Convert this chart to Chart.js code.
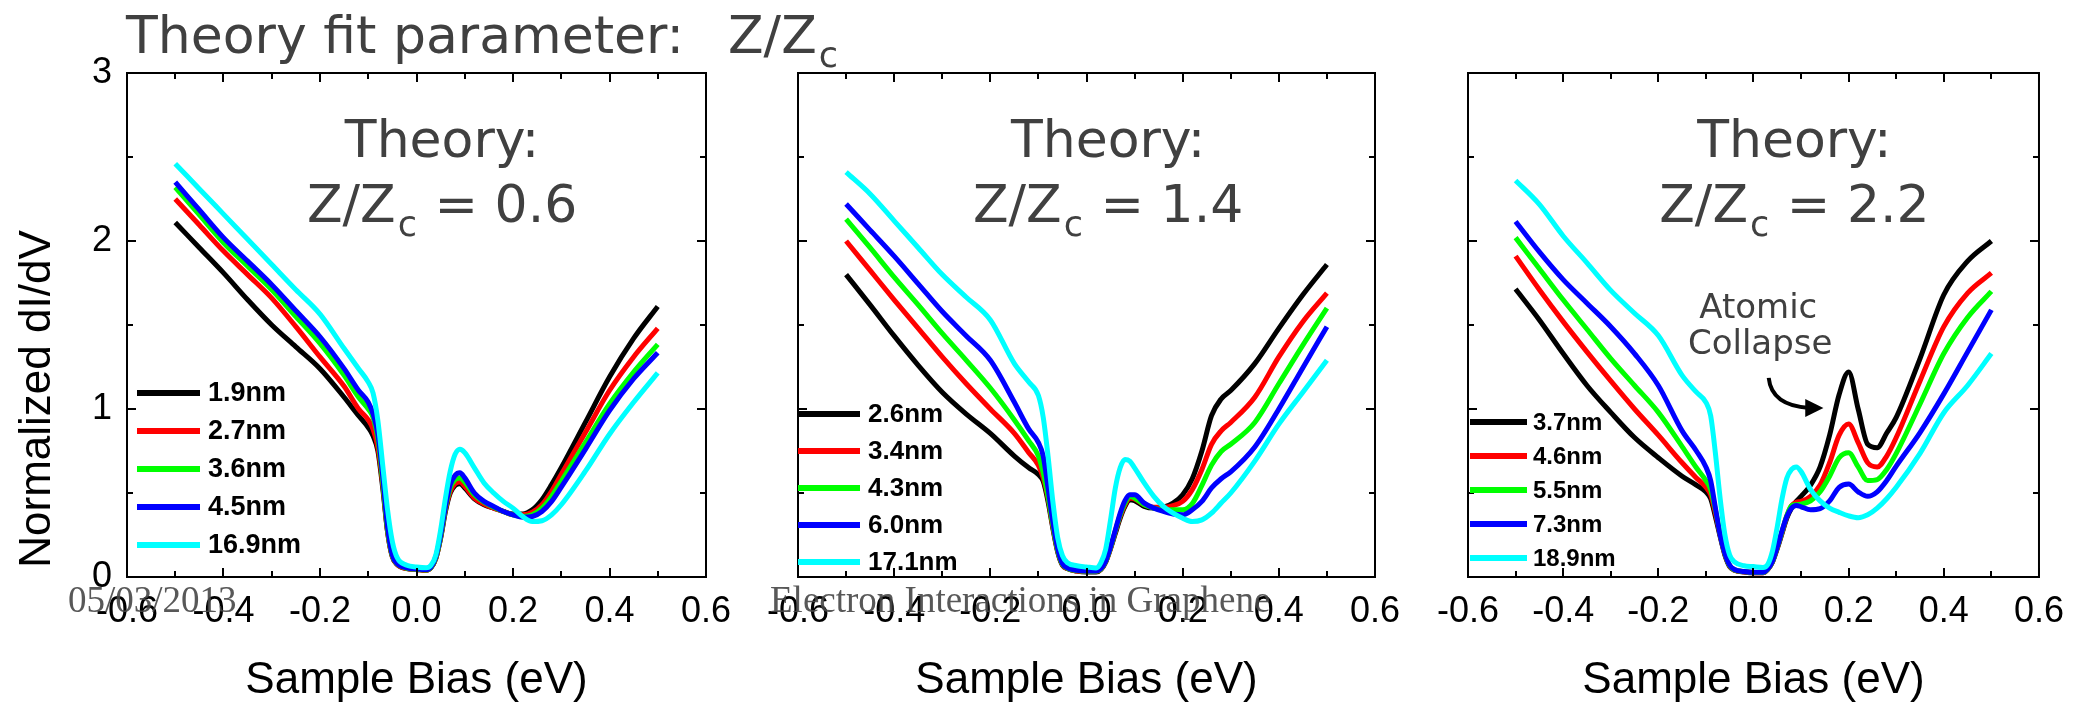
<!DOCTYPE html>
<html lang="en">
<head>
<meta charset="UTF-8">
<title>Theory fit parameter Z/Zc</title>
<script src="https://cdn.jsdelivr.net/npm/chart.js@4.4.1/dist/chart.umd.min.js"></script>
<style>
  html, body { margin: 0; padding: 0; background: #fff; }
  #wrap { position: relative; width: 2077px; height: 707px; }
  #wrap canvas { position: absolute; left: 0; top: 0; }
</style>
</head>
<body>
<div id="wrap">
  <canvas id="c1" width="2077" height="707"></canvas>
  <canvas id="c2" width="2077" height="707"></canvas>
  <canvas id="c3" width="2077" height="707"></canvas>
</div>

<script>
// sample bias (eV), shared by every curve
var biasV = [-0.5, -0.45, -0.4, -0.35, -0.3, -0.25, -0.2, -0.15, -0.12, -0.1, -0.09, -0.08, -0.07, -0.06, -0.05, -0.04, -0.02,
    0, 0.02, 0.03, 0.04, 0.05, 0.06, 0.07, 0.08, 0.09, 0.1, 0.12, 0.14, 0.16, 0.18, 0.2, 0.22, 0.24, 0.26, 0.28, 0.3,
    0.35, 0.4, 0.45, 0.5];

var xTicks = [-0.6, -0.4, -0.2, 0, 0.2, 0.4, 0.6];
var xMinor = [-0.5, -0.3, -0.1, 0.1, 0.3, 0.5];
var yTicks = [0, 1, 2, 3];
var yMinor = [0.5, 1.5, 2.5];

// Z/Zc = 0.6
var p1Labels = ["1.9nm", "2.7nm", "3.6nm", "4.5nm", "16.9nm"];
var p1_19nm = [2.11, 1.96, 1.81, 1.65, 1.50, 1.37, 1.24, 1.07, 0.96, 0.89, 0.84, 0.75, 0.53, 0.27, 0.12, 0.075, 0.05,
    0.045, 0.04, 0.055, 0.11, 0.23, 0.39, 0.50, 0.545, 0.555, 0.53, 0.465, 0.43, 0.41, 0.39, 0.375, 0.375, 0.40, 0.46, 0.55, 0.65,
    0.92, 1.19, 1.42, 1.61];
var p1_27nm = [2.25, 2.095, 1.94, 1.80, 1.66, 1.49, 1.31, 1.135, 1.00, 0.935, 0.88, 0.77, 0.55, 0.27, 0.12, 0.075, 0.05,
    0.045, 0.04, 0.055, 0.11, 0.235, 0.40, 0.51, 0.555, 0.565, 0.54, 0.47, 0.435, 0.41, 0.39, 0.37, 0.37, 0.385, 0.43, 0.51, 0.61,
    0.86, 1.11, 1.31, 1.48];
var p1_36nm = [2.32, 2.155, 1.99, 1.85, 1.71, 1.55, 1.39, 1.20, 1.07, 1.00, 0.95, 0.82, 0.57, 0.28, 0.125, 0.078, 0.052,
    0.046, 0.042, 0.057, 0.115, 0.24, 0.41, 0.53, 0.58, 0.59, 0.565, 0.49, 0.445, 0.415, 0.39, 0.37, 0.36, 0.37, 0.41, 0.48, 0.57,
    0.80, 1.03, 1.22, 1.385];
var p1_45nm = [2.35, 2.185, 2.02, 1.88, 1.74, 1.585, 1.43, 1.24, 1.11, 1.04, 0.97, 0.85, 0.60, 0.30, 0.13, 0.08, 0.055,
    0.048, 0.044, 0.06, 0.12, 0.25, 0.42, 0.55, 0.605, 0.62, 0.59, 0.50, 0.45, 0.42, 0.39, 0.37, 0.355, 0.36, 0.39, 0.45, 0.535,
    0.76, 0.99, 1.18, 1.335];
var p1_169nm = [2.46, 2.31, 2.16, 2.01, 1.86, 1.71, 1.565, 1.36, 1.24, 1.16, 1.095, 0.93, 0.665, 0.40, 0.21, 0.115, 0.07,
    0.06, 0.055, 0.07, 0.13, 0.28, 0.47, 0.63, 0.73, 0.76, 0.74, 0.65, 0.56, 0.50, 0.45, 0.41, 0.36, 0.33, 0.335, 0.37, 0.43,
    0.63, 0.85, 1.04, 1.215];

// Z/Zc = 1.4
var p2Labels = ["2.6nm", "3.4nm", "4.3nm", "6.0nm", "17.1nm"];
var p2_26nm = [1.80, 1.62, 1.435, 1.26, 1.10, 0.97, 0.855, 0.72, 0.65, 0.61, 0.57, 0.45, 0.29, 0.15, 0.07, 0.05, 0.035,
    0.03, 0.03, 0.045, 0.09, 0.17, 0.26, 0.35, 0.42, 0.46, 0.455, 0.42, 0.41, 0.415, 0.44, 0.49, 0.585, 0.75, 0.96, 1.06, 1.11,
    1.27, 1.48, 1.68, 1.86];
var p2_34nm = [2.00, 1.825, 1.65, 1.48, 1.31, 1.15, 1.00, 0.855, 0.74, 0.665, 0.59, 0.47, 0.30, 0.155, 0.072, 0.05, 0.036,
    0.032, 0.032, 0.046, 0.09, 0.17, 0.27, 0.36, 0.43, 0.47, 0.465, 0.43, 0.415, 0.415, 0.425, 0.45, 0.52, 0.64, 0.79, 0.87, 0.92,
    1.07, 1.31, 1.52, 1.69];
var p2_43nm = [2.13, 1.96, 1.785, 1.62, 1.45, 1.29, 1.125, 0.935, 0.81, 0.72, 0.62, 0.48, 0.31, 0.16, 0.075, 0.052, 0.038,
    0.034, 0.034, 0.048, 0.092, 0.175, 0.275, 0.37, 0.44, 0.48, 0.47, 0.43, 0.41, 0.40, 0.40, 0.40, 0.437, 0.545, 0.666, 0.747, 0.79,
    0.92, 1.15, 1.38, 1.60];
var p2_60nm = [2.22, 2.065, 1.91, 1.745, 1.58, 1.435, 1.29, 1.04, 0.88, 0.80, 0.72, 0.53, 0.33, 0.17, 0.08, 0.055, 0.04,
    0.036, 0.036, 0.05, 0.095, 0.18, 0.28, 0.38, 0.455, 0.49, 0.49, 0.44, 0.41, 0.39, 0.375, 0.37, 0.40, 0.45, 0.53, 0.585, 0.626,
    0.774, 1.00, 1.246, 1.49];
var p2_171nm = [2.41, 2.28, 2.12, 1.96, 1.80, 1.665, 1.53, 1.27, 1.16, 1.08, 0.95, 0.72, 0.45, 0.235, 0.127, 0.086, 0.067,
    0.06, 0.054, 0.086, 0.167, 0.34, 0.53, 0.65, 0.70, 0.69, 0.65, 0.56, 0.48, 0.42, 0.38, 0.35, 0.33, 0.34, 0.38, 0.44, 0.50,
    0.69, 0.91, 1.10, 1.29];

// Z/Zc = 2.2
var p3Labels = ["3.7nm", "4.6nm", "5.5nm", "7.3nm", "18.9nm"];
var p3_37nm = [1.714, 1.53, 1.33, 1.14, 0.98, 0.83, 0.71, 0.60, 0.547, 0.507, 0.466, 0.36, 0.24, 0.13, 0.062, 0.04, 0.03,
    0.025, 0.025, 0.045, 0.09, 0.17, 0.26, 0.35, 0.41, 0.45, 0.48, 0.547, 0.655, 0.844, 1.086, 1.22, 1.0, 0.79, 0.77, 0.857, 0.95,
    1.30, 1.68, 1.88, 2.0];
var p3_46nm = [1.91, 1.71, 1.52, 1.34, 1.167, 1.00, 0.844, 0.68, 0.59, 0.534, 0.49, 0.38, 0.25, 0.135, 0.065, 0.042, 0.031,
    0.026, 0.026, 0.046, 0.092, 0.175, 0.265, 0.36, 0.425, 0.445, 0.45, 0.48, 0.547, 0.68, 0.844, 0.91, 0.80, 0.68, 0.655, 0.72, 0.83,
    1.167, 1.49, 1.69, 1.81];
var p3_55nm = [2.02, 1.835, 1.65, 1.475, 1.30, 1.14, 0.98, 0.776, 0.65, 0.574, 0.52, 0.40, 0.255, 0.14, 0.067, 0.043, 0.032,
    0.027, 0.027, 0.047, 0.093, 0.178, 0.27, 0.365, 0.425, 0.43, 0.434, 0.453, 0.507, 0.60, 0.71, 0.74, 0.655, 0.574, 0.58, 0.64, 0.736,
    1.03, 1.33, 1.545, 1.70];
var p3_73nm = [2.116, 1.935, 1.77, 1.63, 1.49, 1.33, 1.14, 0.87, 0.75, 0.655, 0.574, 0.41, 0.25, 0.14, 0.07, 0.045, 0.033,
    0.028, 0.028, 0.048, 0.095, 0.18, 0.275, 0.36, 0.41, 0.426, 0.418, 0.40, 0.407, 0.453, 0.534, 0.553, 0.507, 0.48, 0.507, 0.574, 0.66,
    0.86, 1.09, 1.34, 1.59];
var p3_189nm = [2.36, 2.218, 2.03, 1.87, 1.706, 1.57, 1.437, 1.20, 1.10, 1.04, 0.96, 0.736, 0.466, 0.25, 0.13, 0.09, 0.067,
    0.062, 0.057, 0.075, 0.156, 0.30, 0.466, 0.588, 0.64, 0.655, 0.628, 0.52, 0.453, 0.41, 0.385, 0.364, 0.353, 0.37, 0.41, 0.466, 0.534,
    0.736, 0.978, 1.14, 1.33];

var lineColors = ['#000000', '#ff0000', '#00ff00', '#0000ff', '#00ffff'];
var textGray = '#404040';

Chart.defaults.font.family = 'Liberation Sans';

// "Z/Zc = v" with a subscript c, centred on cx
function drawZText(ctx, cx, base, size, tail) {
    var big = size + 'px "DejaVu Sans"', small = Math.round(size * 0.67) + 'px "DejaVu Sans"';
    ctx.font = big;
    var w1 = ctx.measureText('Z/Z').width;
    var w3 = ctx.measureText(tail).width;
    ctx.font = small;
    var w2 = ctx.measureText('c').width + 3;
    var x = cx - (w1 + w2 + w3) / 2;
    ctx.textAlign = 'left';
    ctx.font = big;
    ctx.fillText('Z/Z', x, base);
    ctx.font = small;
    ctx.fillText('c', x + w1 + 2, base + Math.round(size * 0.26));
    ctx.font = big;
    ctx.fillText(tail, x + w1 + w2, base);
}

function drawDeco(chart, cfg) {
    var ctx = chart.ctx, a = chart.chartArea, xs = chart.scales.x, ys = chart.scales.y;
    ctx.save();

    // frame + inward ticks on all four sides
    ctx.strokeStyle = '#000';
    ctx.lineWidth = 2;
    ctx.strokeRect(a.left, a.top, a.right - a.left, a.bottom - a.top);
    function seg(x1, y1, x2, y2) { ctx.beginPath(); ctx.moveTo(x1, y1); ctx.lineTo(x2, y2); ctx.stroke(); }
    function xt(v, len) {
        var p = Math.round(xs.getPixelForValue(v));
        seg(p, a.bottom, p, a.bottom - len);
        seg(p, a.top, p, a.top + len);
    }
    function yt(v, len) {
        var p = Math.round(ys.getPixelForValue(v));
        seg(a.left, p, a.left + len, p);
        seg(a.right, p, a.right - len, p);
    }
    xTicks.forEach(function (v) { xt(v, 9); });
    xMinor.forEach(function (v) { xt(v, 6); });
    yTicks.forEach(function (v) { yt(v, 9); });
    yMinor.forEach(function (v) { yt(v, 6); });

    // legend inside the plot, lower left
    var lg = cfg.legend;
    ctx.font = 'bold ' + lg.size + 'px "Liberation Sans"';
    ctx.textAlign = 'left';
    ctx.textBaseline = 'middle';
    chart.data.datasets.forEach(function (ds, i) {
        var y = lg.y0 + i * lg.dy;
        ctx.strokeStyle = ds.borderColor;
        ctx.lineWidth = 6;
        seg(a.left + lg.x0, y, a.left + lg.x1, y);
        ctx.fillStyle = '#000';
        ctx.fillText(ds.label, a.left + lg.tx, y + 1);
    });

    // heading inside the plot
    ctx.fillStyle = textGray;
    ctx.textBaseline = 'alphabetic';
    ctx.textAlign = 'center';
    ctx.font = '52px "DejaVu Sans"';
    var hx = xs.getPixelForValue(cfg.headX);
    ctx.fillText('Theory:', hx, ys.getPixelForValue(2.5));
    drawZText(ctx, hx, ys.getPixelForValue(2.113), 52, ' = ' + cfg.zz);

    if (cfg.note) cfg.note(ctx, xs, ys);
    ctx.restore();
}

function atomicNote(ctx, xs, ys) {
    ctx.fillStyle = textGray;
    ctx.textAlign = 'center';
    ctx.font = '34px "DejaVu Sans"';
    ctx.fillText('Atomic', xs.getPixelForValue(0.01), ys.getPixelForValue(1.542));
    ctx.fillText('Collapse', xs.getPixelForValue(0.014), ys.getPixelForValue(1.327));

    var x0 = xs.getPixelForValue(0.032), y0 = ys.getPixelForValue(1.185);
    var cx = xs.getPixelForValue(0.038), cy = ys.getPixelForValue(1.02);
    var x1 = xs.getPixelForValue(0.113), y1 = ys.getPixelForValue(1.006);
    var tip = xs.getPixelForValue(0.147);
    ctx.strokeStyle = '#000';
    ctx.lineWidth = 4;
    ctx.beginPath();
    ctx.moveTo(x0, y0);
    ctx.quadraticCurveTo(cx, cy, x1 + 2, y1);
    ctx.stroke();
    ctx.fillStyle = '#000';
    ctx.beginPath();
    ctx.moveTo(x1 - 2, y1 - 9);
    ctx.lineTo(tip, y1);
    ctx.lineTo(x1 - 2, y1 + 9);
    ctx.closePath();
    ctx.fill();
}

function drawPage(ctx) {
    ctx.save();
    ctx.textBaseline = 'alphabetic';
    ctx.textAlign = 'left';
    ctx.fillStyle = textGray;
    ctx.font = '52px "DejaVu Sans"';
    ctx.fillText('Theory fit parameter:', 126, 53);
    var w = ctx.measureText('Z/Z').width;
    ctx.fillText('Z/Z', 728, 53);
    ctx.font = '35px "DejaVu Sans"';
    ctx.fillText('c', 728 + w + 2, 67);

    // y axis title, only left of the first panel
    ctx.save();
    ctx.translate(50, 399);
    ctx.rotate(-Math.PI / 2);
    ctx.fillStyle = '#000';
    ctx.textAlign = 'center';
    ctx.font = '44px "Liberation Sans"';
    ctx.fillText('Normalized dI/dV', 0, 0);
    ctx.restore();

    // slide footer
    ctx.fillStyle = 'rgba(70,70,70,0.9)';
    ctx.font = '37px "Liberation Serif"';
    ctx.fillText('05/03/2013', 68, 612);
    ctx.fillText('Electron Interactions in Graphene', 770, 612);
    ctx.restore();
}

function makePanel(id, cfg) {
    var datasets = cfg.series.map(function (vals, i) {
        return {
            label: cfg.labels[i],
            data: biasV.map(function (x, k) { return { x: x, y: vals[k] }; }),
            borderColor: lineColors[i],
            backgroundColor: lineColors[i],
            borderWidth: 5,
            pointRadius: 0,
            fill: false,
            cubicInterpolationMode: 'monotone',
            order: cfg.series.length - 1 - i
        };
    });

    return new Chart(document.getElementById(id), {
        type: 'line',
        data: { datasets: datasets },
        options: {
            responsive: false,
            animation: false,
            events: [],
            layout: {
                autoPadding: false,
                padding: { left: cfg.x0 - 127, right: 2077 - cfg.x1, top: 73, bottom: 0 }
            },
            plugins: { legend: { display: false }, tooltip: { enabled: false } },
            scales: {
                x: {
                    type: 'linear', min: -0.6, max: 0.6,
                    afterBuildTicks: function (s) { s.ticks = xTicks.map(function (v) { return { value: v }; }); },
                    afterFit: function (s) { s.height = 130; },
                    grid: { display: false, drawTicks: false },
                    border: { display: false },
                    ticks: {
                        padding: 13, color: '#000', maxRotation: 0, autoSkip: false,
                        font: { size: 36 },
                        callback: function (v) { return Math.abs(v) < 1e-9 ? '0.0' : Number(v).toFixed(1); }
                    },
                    title: {
                        display: true, text: 'Sample Bias (eV)', color: '#000',
                        font: { size: 44 }, padding: { top: 0, bottom: 0 }
                    }
                },
                y: {
                    type: 'linear', min: 0, max: 3,
                    afterBuildTicks: function (s) { s.ticks = yTicks.map(function (v) { return { value: v }; }); },
                    afterFit: function (s) { s.width = 127; },
                    grid: { display: false, drawTicks: false },
                    border: { display: false },
                    ticks: { display: cfg.showY, padding: 15, color: '#000', font: { size: 36 } }
                }
            }
        },
        plugins: [{
            id: 'deco',
            afterDraw: function (chart) {
                drawDeco(chart, cfg);
                if (cfg.page) drawPage(chart.ctx);
            }
        }]
    });
}

makePanel('c1', {
    x0: 127, x1: 706, showY: true, zz: '0.6', headX: 0.053,
    labels: p1Labels, series: [p1_19nm, p1_27nm, p1_36nm, p1_45nm, p1_169nm],
    legend: { x0: 10, x1: 73, tx: 81, y0: 393, dy: 38, size: 27 }
});
makePanel('c2', {
    x0: 798, x1: 1375, showY: false, zz: '1.4', headX: 0.045,
    labels: p2Labels, series: [p2_26nm, p2_34nm, p2_43nm, p2_60nm, p2_171nm],
    legend: { x0: 0, x1: 62, tx: 70, y0: 414, dy: 37, size: 26 }
});
makePanel('c3', {
    x0: 1468, x1: 2047, showY: false, zz: '2.2', headX: 0.086,
    labels: p3Labels, series: [p3_37nm, p3_46nm, p3_55nm, p3_73nm, p3_189nm],
    legend: { x0: 2, x1: 59, tx: 65, y0: 422, dy: 34, size: 24 },
    note: atomicNote, page: true
});
</script>
</body>
</html>
